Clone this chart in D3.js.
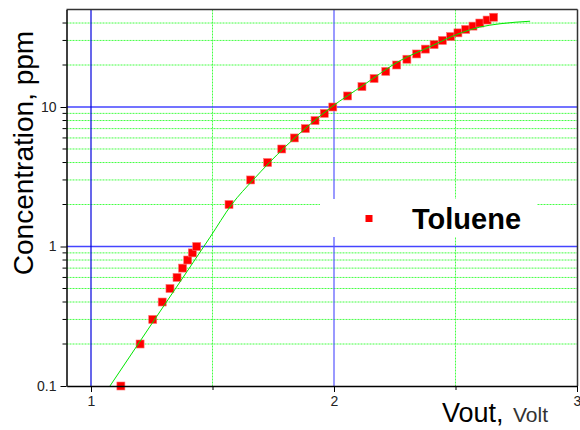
<!DOCTYPE html>
<html>
<head>
<meta charset="utf-8">
<script src="https://cdn.jsdelivr.net/npm/d3@7"></script>
<style>
  body { margin: 0; background: #fff; }
  text { font-family: Arial, "Liberation Sans", sans-serif; }
</style>
</head>
<body>
<div id="chart"></div>
<script>
'use strict';

// measured points (Vout in volt, concentration in ppm)
var volts = [1.123, 1.202, 1.254, 1.293, 1.325, 1.354, 1.377, 1.398, 1.417, 1.435,
  1.568, 1.657, 1.727, 1.785, 1.837, 1.882, 1.922, 1.960, 1.995,
  2.056, 2.115, 2.165, 2.213, 2.258, 2.300, 2.340, 2.376, 2.412, 2.446,
  2.480, 2.510, 2.542, 2.572, 2.600, 2.630, 2.657];
var concs = [0.1, 0.2, 0.3, 0.4, 0.5, 0.6, 0.7, 0.8, 0.9, 1,
  2, 3, 4, 5, 6, 7, 8, 9, 10,
  12, 14, 16, 18, 20, 22, 24, 26, 28, 30,
  32, 34, 36, 38, 40, 42, 44];

// fitted curve
var fitVolts = [1.078, 1.30, 1.49, 1.579, 1.667, 1.80, 1.99, 2.12, 2.272, 2.40, 2.505, 2.60, 2.683, 2.807];
var fitConcs = [0.1, 0.376, 1.166, 2, 3, 5.2, 10, 14.3, 21.5, 27.3, 33.1, 37.4, 39.5, 41.2];

var xMajor = [1, 2, 3];
var xMinor = [1.5, 2.5];
var yMajor = [0.1, 1, 10];
var yMinor = [0.2, 0.3, 0.4, 0.5, 0.6, 0.7, 0.8, 0.9, 2, 3, 4, 5, 6, 7, 8, 9, 20, 30, 40];

var width = 580, height = 430;
var pLeft = 66.5, pRight = 577.5, pTop = 9.5, pBottom = 386;

var svg = d3.select('#chart').append('svg')
  .attr('width', width)
  .attr('height', height);

var x = d3.scaleLinear().domain([0.9, 3]).range([pLeft + 0.2, 577]);
var y = d3.scaleLog().domain([0.1, 50]).range([pBottom, pTop]);

var grid = svg.append('g').attr('class', 'grid');

// minor grid, green dotted
grid.selectAll('line.ym')
  .data(yMinor)
  .enter().append('line')
  .attr('class', 'ym')
  .attr('x1', pLeft).attr('x2', pRight)
  .attr('y1', function(d) { return y(d); })
  .attr('y2', function(d) { return y(d); })
  .attr('stroke', '#44ff44')
  .attr('stroke-width', 1)
  .attr('stroke-dasharray', '2,1');

grid.selectAll('line.xm')
  .data(xMinor)
  .enter().append('line')
  .attr('class', 'xm')
  .attr('y1', pTop).attr('y2', pBottom)
  .attr('x1', function(d) { return x(d); })
  .attr('x2', function(d) { return x(d); })
  .attr('stroke', '#44ff44')
  .attr('stroke-width', 1)
  .attr('stroke-dasharray', '2,1');

// major grid, blue
grid.selectAll('line.yM')
  .data(yMajor.slice(1))
  .enter().append('line')
  .attr('class', 'yM')
  .attr('x1', pLeft).attr('x2', pRight)
  .attr('y1', function(d) { return y(d); })
  .attr('y2', function(d) { return y(d); })
  .attr('stroke', '#4444ff')
  .attr('stroke-width', 1.3);

grid.selectAll('line.xM')
  .data(xMajor.slice(0, 2))
  .enter().append('line')
  .attr('class', 'xM')
  .attr('y1', pTop).attr('y2', pBottom)
  .attr('x1', function(d) { return x(d); })
  .attr('x2', function(d) { return x(d); })
  .attr('stroke', function(d) { return d === 1 ? '#0000dd' : '#5555ff'; })
  .attr('stroke-width', 1.2);

// legend background hides the grid
var legend = svg.append('g').attr('class', 'legend');
legend.append('rect')
  .attr('x', 320).attr('y', 199)
  .attr('width', 217).attr('height', 38)
  .attr('fill', '#fff');
legend.append('rect')
  .attr('x', 365.5).attr('y', 215)
  .attr('width', 7).attr('height', 7)
  .attr('fill', '#ff0000');
legend.append('text')
  .attr('x', 412).attr('y', 228.5)
  .attr('font-size', 29)
  .attr('font-weight', 'bold')
  .attr('fill', '#000')
  .text('Toluene');

// data points
var s = 8;
svg.append('g').selectAll('rect.pt')
  .data(volts)
  .enter().append('rect')
  .attr('class', 'pt')
  .attr('x', function(d) { return x(d) - s / 2; })
  .attr('y', function(d, i) { return y(concs[i]) - s / 2; })
  .attr('width', s).attr('height', s)
  .attr('fill', '#ff0000')
  .attr('stroke', '#ff7070')
  .attr('stroke-width', 0.6);

// fitted curve over the points
var fit = fitVolts.map(function(v, i) { return [v, fitConcs[i]]; });
var line = d3.line()
  .x(function(d) { return x(d[0]); })
  .y(function(d) { return y(d[1]); })
  .curve(d3.curveMonotoneX);

svg.append('path')
  .datum(fit)
  .attr('d', line)
  .attr('fill', 'none')
  .attr('stroke', '#00e600')
  .attr('stroke-width', 1);

// frame
svg.append('line')
  .attr('x1', pLeft).attr('x2', pRight).attr('y1', pTop).attr('y2', pTop)
  .attr('stroke', '#333').attr('stroke-width', 1.5);
svg.append('line')
  .attr('x1', pRight).attr('x2', pRight).attr('y1', pTop).attr('y2', pBottom)
  .attr('stroke', '#333').attr('stroke-width', 1.5);

// axes
var yAxis = d3.axisLeft(y)
  .tickValues(yMajor)
  .tickSize(6)
  .tickSizeOuter(0)
  .tickFormat(function(d) { return String(d); });

var yg = svg.append('g')
  .attr('transform', 'translate(' + pLeft + ',0)')
  .call(yAxis);

yg.selectAll('line.minor')
  .data(yMinor)
  .enter().append('line')
  .attr('class', 'minor')
  .attr('x1', -4).attr('x2', 0)
  .attr('y1', function(d) { return y(d); })
  .attr('y2', function(d) { return y(d); })
  .attr('stroke', '#000');

var xAxis = d3.axisBottom(x)
  .tickValues(xMajor.concat(xMinor))
  .tickSize(6)
  .tickSizeOuter(0)
  .tickFormat(function(d) { return xMajor.indexOf(d) >= 0 ? String(d) : ''; });

var xg = svg.append('g')
  .attr('transform', 'translate(0,' + pBottom + ')')
  .call(xAxis);
xg.selectAll('.tick')
  .filter(function(d) { return xMinor.indexOf(d) >= 0; })
  .select('line').attr('y2', 4);

[yg, xg].forEach(function(g) {
  g.select('.domain').attr('stroke', '#000').attr('stroke-width', 1.5);
  g.selectAll('.tick line').attr('stroke', '#000');
  g.selectAll('.tick text')
    .attr('font-family', 'Arial, "Liberation Sans", sans-serif')
    .attr('font-size', 14)
    .attr('fill', '#222');
});
yg.selectAll('.tick text').attr('x', -10);
xg.selectAll('.tick text').attr('y', 10);

// axis titles
svg.append('text')
  .attr('transform', 'translate(33,153) rotate(-90)')
  .attr('text-anchor', 'middle')
  .attr('font-size', 28)
  .attr('fill', '#000')
  .text('Concentration, ppm');

var xt = svg.append('text')
  .attr('x', 442).attr('y', 422)
  .attr('fill', '#000');
xt.append('tspan').attr('font-size', 27).text('Vout,');
xt.append('tspan').attr('x', 513).attr('font-size', 21).attr('fill', '#333').text('Volt');
</script>
</body>
</html>
